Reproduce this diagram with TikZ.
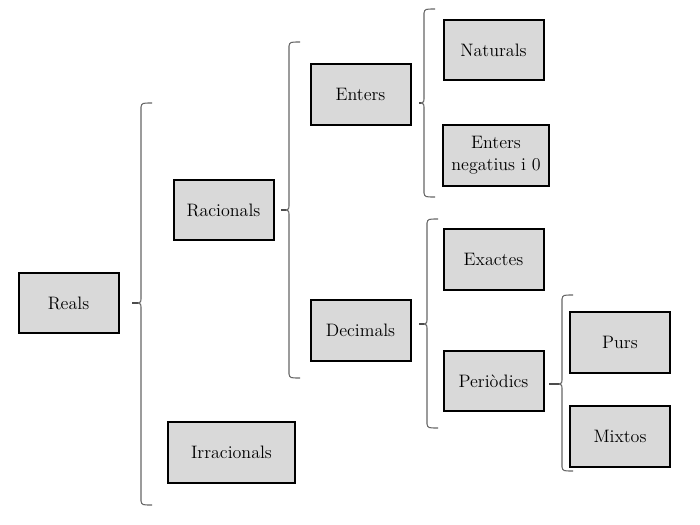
\documentclass[tikz,border=0pt]{standalone}
\usepackage{tikz}
\usetikzlibrary{positioning,calc}

% clau: x, dalt, mig, baix, punta
\newcommand{\clau}[5]{%
  \draw[clau] (#1+11,#2) .. controls (#1+1,#2) .. (#1,#2+4) -- (#1,#3-4)
    .. controls (#1,#3-1) .. (#1-3,#3) .. controls (#1,#3+1) .. (#1,#3+4)
    -- (#1,#4-4) .. controls (#1+1,#4) .. (#1+11,#4);
  \coordinate (#5) at (#1-3,#3);}

\begin{document}
\begin{tikzpicture}[x=0.75pt,y=-0.75pt,
  caixa/.style={draw=black, line width=1.5pt, fill=black!15, minimum width=75pt,
    minimum height=45.5pt, align=center, inner sep=2pt,
    font=\fontsize{13.5}{16}\selectfont},
  clau/.style={draw=black!60, line width=0.8pt},
  punta/.style={draw=black!70, line width=0.8pt}]
		\useasboundingbox (0,0) rectangle (700,525);
		% nivell 1
		\node[caixa] (reals) at (68.5,303) {Reals};
		% nivell 2
		\node[caixa] (racionals) at (223.5,210) {Racionals};
		\node[caixa, minimum width=95pt] (irracionals) at (231.5,452.5) {Irracionals};
		% nivell 3
		\node[caixa] (enters) at (360.5,94.5) {Enters};
		\node[caixa] (decimals) at (360.5,330.5) {Decimals};
		% nivell 4
		\node[caixa] (naturals) at (493.5,50) {Naturals};
		\node[caixa, minimum width=79pt, font=\fontsize{13.5}{16.5}\selectfont] (negatius) at (496,155.5) {Enters\\negatius i 0};
		\node[caixa] (exactes) at (493.5,259.5) {Exactes};
		\node[caixa] (periodics) at (493.5,381) {Periòdics};
		% nivell 5
		\node[caixa] (purs) at (620,342.5) {Purs};
		\node[caixa] (mixtos) at (620,436.5) {Mixtos};
		% claus
		\clau{141}{103}{303}{505}{pReals}
		\clau{289}{42}{210}{378}{pRacionals}
		\clau{424}{9}{103}{197}{pEnters}
		\clau{427}{219}{324}{428}{pDecimals}
		\clau{562}{295}{384}{471}{pPeriodics}
		\draw[punta] (pReals) -- ($(reals.east)+(12,0)$);
		\draw[punta] (pRacionals) -- ($(racionals.east)+(6,0)$);
		\draw[punta] (pEnters) -- ($(enters.east |- pEnters)+(7,0)$);
		\draw[punta] (pDecimals) -- ($(decimals.east |- pDecimals)+(7,0)$);
		\draw[punta] (pPeriodics) -- ($(periodics.east |- pPeriodics)+(4,0)$);
\end{tikzpicture}
\end{document}
